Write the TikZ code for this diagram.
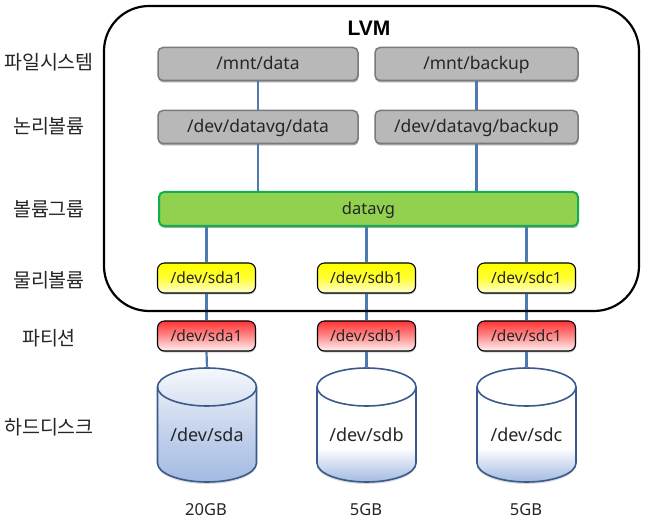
\documentclass[tikz,border=0pt]{standalone}
\usepackage{fontspec}
\setmainfont{Noto Sans}
\newfontfamily\krfont{Noto Sans CJK KR}
\newfontfamily\lvmfont{Liberation Sans}
\usetikzlibrary{shadows,calc}
\definecolor{conn}{HTML}{4F7AB0}
\definecolor{grayfill}{HTML}{B8B8B8}
\definecolor{grayline}{HTML}{7A7A7A}
\definecolor{greenfill}{HTML}{92D050}
\definecolor{greenline}{HTML}{10B050}
\definecolor{diskline}{HTML}{3A5A8C}
\definecolor{diskblue}{HTML}{A3BAE2}
\pgfdeclareverticalshading{diskwhite}{100bp}{
  color(0bp)=(diskblue); color(25bp)=(diskblue); color(40bp)=(white); color(100bp)=(white)}
\pgfdeclareverticalshading{diskfull}{100bp}{
  color(0bp)=(diskblue); color(25bp)=(diskblue); color(50bp)=(diskblue!60!white); color(75bp)=(white!90!diskblue); color(100bp)=(white!90!diskblue)}
\tikzset{
  x=1pt,y=-1pt,
  even/.style={text height=13pt,text depth=1pt},
  txt/.style={font=\fontsize{17.5pt}{20pt}\selectfont,text=black!85,even},
  small/.style={font=\fontsize{15.5pt}{18pt}\selectfont,text=black!85,even},
  boxg/.style={txt,draw=grayline,line width=1.5pt,fill=grayfill,rounded corners=5pt,minimum height=33pt,inner sep=0pt,
    drop shadow={shadow xshift=0.5pt,shadow yshift=-2pt,opacity=.35,fill=black}},
  boxgreen/.style={font=\fontsize{16.5pt}{18pt}\selectfont,text=black!85,even,draw=greenline,line width=2pt,fill=greenfill,rounded corners=5pt,minimum width=419pt,minimum height=34pt,inner sep=0pt,
    drop shadow={shadow xshift=0.5pt,shadow yshift=-2pt,opacity=.35,fill=black}},
  boxy/.style={small,draw=black,line width=1.1pt,rounded corners=7pt,minimum width=98pt,minimum height=30pt,inner sep=0pt,
    top color=yellow,bottom color=yellow!15!white,middle color=yellow!80!white,
    drop shadow={shadow xshift=0.5pt,shadow yshift=-1.5pt,opacity=.3,fill=black}},
  boxr/.style={small,draw=black,line width=1.1pt,rounded corners=7pt,minimum width=98pt,minimum height=30pt,inner sep=0pt,
    top color=red!80!white,bottom color=red!5!white,middle color=red!45!white,
    drop shadow={shadow xshift=0.5pt,shadow yshift=-1.5pt,opacity=.3,fill=black}},
  lbl/.style={font=\krfont\fontsize{19.5pt}{22pt}\selectfont,text=black!85},
  sizecap/.style={font=\fontsize{16.5pt}{18pt}\selectfont,text=black!85},
  wire/.style={draw=conn,line width=2.2pt},
  diskedge/.style={draw=diskline,line width=1.6pt},
}
\newcommand{\disk}[4]{% centre x, name, text, shading
  \coordinate (#2top) at (#1,368);
  \fill[black,opacity=.15] (#1-49.5,389) -- (#1+49.5,389) -- (#1+49.5,465) arc[start angle=0,end angle=180,x radius=49.5,y radius=19] -- cycle;
  \shade[shading=#4]
    (#1-49.5,387) arc[start angle=180,end angle=0,x radius=49.5,y radius=-19]
    -- (#1+49.5,463) arc[start angle=0,end angle=180,x radius=49.5,y radius=19] -- cycle;
  \draw[diskedge] (#1-49.5,387) arc[start angle=180,end angle=0,x radius=49.5,y radius=-19]
    -- (#1+49.5,463) arc[start angle=0,end angle=180,x radius=49.5,y radius=19] -- cycle;
  \draw[diskedge] (#1-49.5,387) arc[start angle=180,end angle=360,x radius=49.5,y radius=-19];
  \node[txt,font=\fontsize{18pt}{20pt}\selectfont] (#2) at (#1,435.5) {#3};
}
\begin{document}
\begin{tikzpicture}
\useasboundingbox (0,0) rectangle (651,521);
\fill[white] (0,0) rectangle (651,521);
\node[boxg,minimum width=200pt] (mdata) at (258,64) {/mnt/data};
\node[boxg,minimum width=203pt] (mbackup) at (476.5,64) {/mnt/backup};
\node[boxg,minimum width=200pt] (ldata) at (258,127) {/dev/datavg/data};
\node[boxg,minimum width=203pt] (lbackup) at (476.5,127) {/dev/datavg/backup};
\node[boxgreen] (vg) at (368.5,209) {datavg};
\draw[wire] (mdata) -- (ldata);
\draw[wire] (mbackup) -- (lbackup);
\draw[wire] (ldata) -- (ldata |- vg.north);
\draw[wire] (lbackup) -- (lbackup |- vg.north);
\disk{207}{da}{/dev/sda}{diskfull}
\disk{366.5}{db}{/dev/sdb}{diskwhite}
\disk{526.5}{dc}{/dev/sdc}{diskwhite}
\node[boxy] (pa) at (206.5,278) {/dev/sda1};
\node[boxy] (pb) at (366.5,278) {/dev/sdb1};
\node[boxy] (pc) at (526.5,278) {/dev/sdc1};
\node[boxr] (ra) at (206.5,336) {/dev/sda1};
\node[boxr] (rb) at (366.5,336) {/dev/sdb1};
\node[boxr] (rc) at (526.5,336) {/dev/sdc1};
\foreach \p/\r/\d in {pa/ra/da,pb/rb/db,pc/rc/dc}{
  \draw[wire] (\p |- vg.south) -- (\p.north);
  \draw[wire] (\p.south) -- (\r.north);
  \draw[wire] (\r.south) -- (\d top);
}
\draw[line width=2.2pt,rounded corners=45pt] (104,6) rectangle (639,311);
\node[font=\lvmfont\bfseries\fontsize{21pt}{23pt}\selectfont] (lvm) at (369,28) {LVM};
\node[lbl] (l1) at (49,62) {파일시스템};
\node[lbl] (l2) at (49,126) {논리볼륨};
\node[lbl] (l3) at (49,209) {볼륨그룹};
\node[lbl] (l4) at (49,280) {물리볼륨};
\node[lbl] (l5) at (49,338) {파티션};
\node[lbl] (l6) at (49,427) {하드디스크};
\node[sizecap] (c1) at (206,510) {20GB};
\node[sizecap] (c2) at (366,510) {5GB};
\node[sizecap] (c3) at (526,510) {5GB};
\end{tikzpicture}
\end{document}
